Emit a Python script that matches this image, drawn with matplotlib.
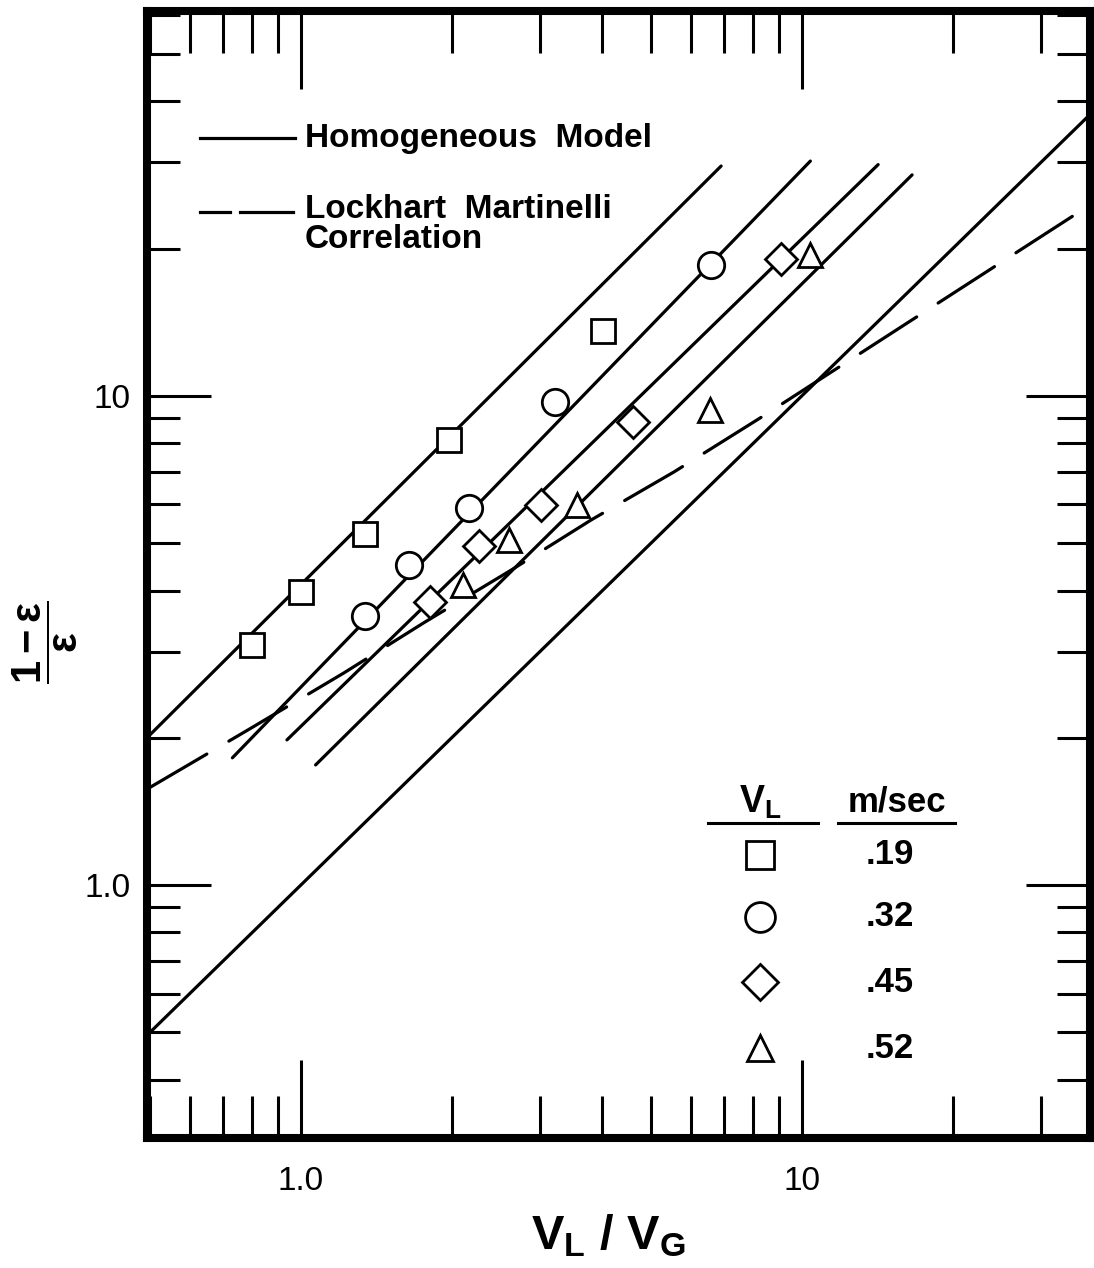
import matplotlib
matplotlib.use('Agg')
import matplotlib.pyplot as plt
from matplotlib.ticker import LogLocator, NullFormatter, FixedLocator, FixedFormatter

plt.rcParams['font.family'] = ['Liberation Sans', 'DejaVu Sans']
plt.rcParams['mathtext.fontset'] = 'custom'
plt.rcParams['mathtext.rm'] = 'Liberation Sans'
plt.rcParams['mathtext.bf'] = 'Liberation Sans:bold'
plt.rcParams['mathtext.it'] = 'Liberation Sans:italic'

# measured points, V_L/V_G vs (1-eps)/eps, one set per liquid velocity
vl_labels = ['.19', '.32', '.45', '.52']
markers = ['s', 'o', 'D', '^']

x_019 = [0.80, 1.00, 1.34, 1.98, 4.01]
y_019 = [3.10, 3.97, 5.22, 8.13, 13.6]
x_032 = [1.34, 1.64, 2.17, 3.21, 6.59]
y_032 = [3.55, 4.51, 5.90, 9.72, 18.5]
x_045 = [1.81, 2.27, 3.02, 4.61, 9.08]
y_045 = [3.79, 4.94, 5.98, 8.85, 19.0]
x_052 = [2.11, 2.60, 3.55, 6.56, 10.4]
y_052 = [4.11, 5.08, 5.98, 9.36, 19.4]

# homogeneous model lines (end points), last one is y = x
homog_x = [[0.493, 6.90], [0.730, 10.4], [0.938, 14.2], [1.07, 16.6], [0.493, 37.6]]
homog_y = [[2.00, 29.5], [1.82, 30.2], [1.98, 29.7], [1.76, 28.3], [0.493, 37.6]]

# Lockhart Martinelli correlation
lm_x = [0.4975, 0.784, 1.218, 1.758, 2.633, 3.799, 5.559, 8.324, 37.64]
lm_y = [1.579, 2.075, 2.713, 3.435, 4.408, 5.578, 6.992, 9.059, 24.58]

W, H = 1094, 1268
fig = plt.figure(figsize=(W / 100, H / 100), dpi=100)
ax = fig.add_axes([147/W, 1-1138/H, (1090-147)/W, (1138-11)/H])
ax.set_xscale('log')
ax.set_yscale('log')
ax.set_xlim(0.493, 37.6)
ax.set_ylim(0.304, 61.2)

lw = 2.3
for hx, hy in zip(homog_x, homog_y):
    ax.plot(hx, hy, '-', color='black', lw=lw, solid_capstyle='round')

ax.plot(lm_x, lm_y, color='black', lw=lw, dashes=(21, 8), dash_capstyle='round')

xs = [x_019, x_032, x_045, x_052]
ys = [y_019, y_032, y_045, y_052]
msizes = [17, 19, 16.5, 17]
for xv, yv, m, ms in zip(xs, ys, markers, msizes):
    ax.plot(xv, yv, m, ms=ms, mfc='white', mec='black', mew=2.0, zorder=5)

for s in ax.spines.values():
    s.set_linewidth(5.8)

ax.xaxis.set_major_locator(FixedLocator([1.0, 10.0]))
ax.xaxis.set_major_formatter(FixedFormatter(['1.0', '10']))
ax.yaxis.set_major_locator(FixedLocator([1.0, 10.0]))
ax.yaxis.set_major_formatter(FixedFormatter(['1.0', '10']))
ax.xaxis.set_minor_locator(LogLocator(base=10, subs=range(2, 10)))
ax.yaxis.set_minor_locator(LogLocator(base=10, subs=range(2, 10)))
ax.xaxis.set_minor_formatter(NullFormatter())
ax.yaxis.set_minor_formatter(NullFormatter())

ax.tick_params(axis='x', which='major', direction='in', length=56, width=2.2,
               top=True, bottom=True, labelsize=24, pad=20)
ax.tick_params(axis='x', which='minor', direction='in', length=30, width=2.2,
               top=True, bottom=True)
ax.tick_params(axis='y', which='major', direction='in', length=46, width=2.2,
               left=True, right=True, labelsize=24, pad=12)
ax.tick_params(axis='y', which='minor', direction='in', length=24, width=2.2,
               left=True, right=True)

# axis titles
fig.text(608/W, 1-1236/H, r'$\mathbf{V_L}$ / $\mathbf{V_G}$', fontsize=35,
         fontweight='bold', ha='center', va='center')
fig.text(45/W, 1-642/H, r'$\dfrac{\mathbf{1-ε}}{\mathbf{ε}}$', fontsize=30,
         rotation=90, ha='center', va='center')

# key for the curves, upper left
tr = ax.transAxes
def ax_frac(px, py):
    return ((px - 147) / (1090 - 147), (1138 - py) / (1138 - 11))

x0, y0 = ax_frac(200, 138)
x1, _ = ax_frac(295, 138)
ax.plot([x0, x1], [y0, y0], '-', color='black', lw=lw, transform=tr)
tx, _ = ax_frac(305, 138)
ax.text(tx, y0, 'Homogeneous  Model', transform=tr, fontsize=24, fontweight='bold', va='center')
_, y1 = ax_frac(0, 212)
for a, b in [(200, 230), (240, 293)]:
    xa, _ = ax_frac(a, 212)
    xb, _ = ax_frac(b, 212)
    ax.plot([xa, xb], [y1, y1], '-', color='black', lw=lw, transform=tr)
_, yt = ax_frac(0, 194)
ax.text(tx, yt, 'Lockhart  Martinelli\nCorrelation', transform=tr, fontsize=24,
        fontweight='bold', va='top', linespacing=0.95)

# key for the symbols, lower right
hx1, hy = ax_frac(760, 802)
hx2, _ = ax_frac(897, 802)
ax.text(hx1, hy, r'$\mathbf{V_L}$', transform=tr, fontsize=27, ha='center', va='center')
ax.text(hx2, hy, 'm/sec', transform=tr, fontsize=25, fontweight='bold', ha='center', va='center')
ua, ul = ax_frac(708, 823)
ub, _ = ax_frac(818, 823)
ax.plot([ua, ub], [ul, ul], color='black', lw=2.2, transform=tr)
ua, _ = ax_frac(838, 823)
ub, _ = ax_frac(955, 823)
ax.plot([ua, ub], [ul, ul], color='black', lw=2.2, transform=tr)
key_sizes = [20, 21.5, 18, 19]
for m, ms, lab, py in zip(markers, key_sizes, vl_labels, [855, 917, 982, 1048]):
    mx, my = ax_frac(760, py)
    ax.plot([mx], [my], m, ms=ms, mfc='white', mec='black', mew=2.0, transform=tr)
    lx, _ = ax_frac(866, py)
    ax.text(lx, my, lab, transform=tr, fontsize=25, fontweight='bold', va='center')

plt.savefig('out.png', dpi=100)
